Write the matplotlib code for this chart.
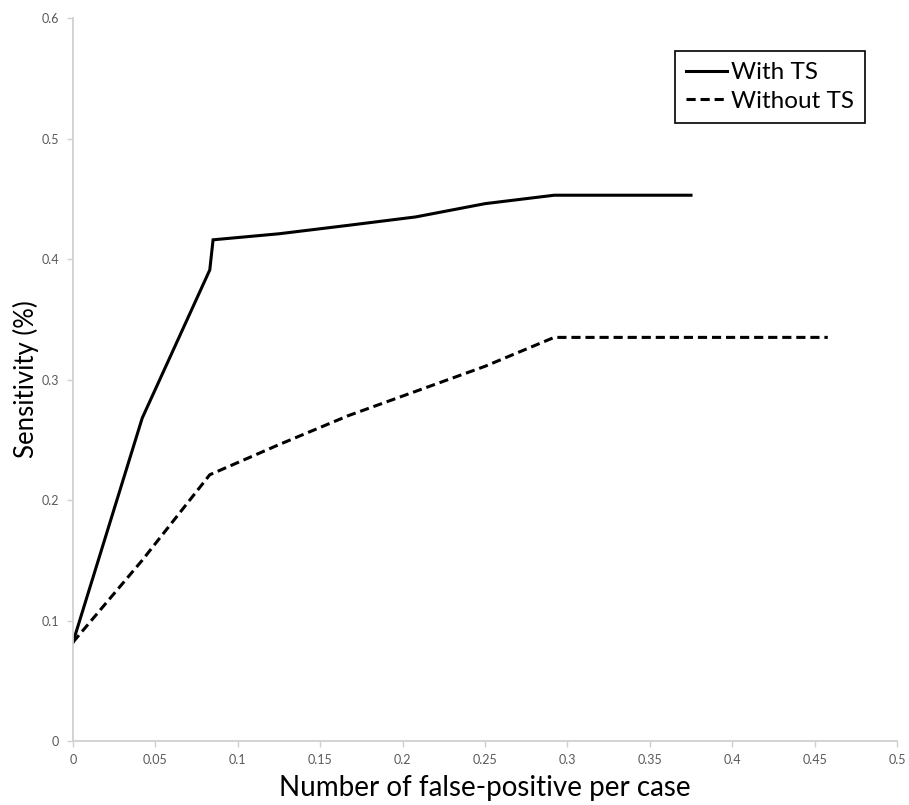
import matplotlib
matplotlib.use("Agg")
import matplotlib.pyplot as plt

# false-positives per case vs sensitivity
fp_with = [0.0, 0.042, 0.083, 0.085, 0.125, 0.167, 0.208, 0.25, 0.292, 0.375]
sens_with = [0.082, 0.268, 0.391, 0.416, 0.421, 0.428, 0.435, 0.446, 0.453, 0.453]

fp_without = [0.0, 0.042, 0.083, 0.125, 0.167, 0.25, 0.292, 0.458]
sens_without = [0.082, 0.15, 0.221, 0.246, 0.27, 0.311, 0.335, 0.335]

x_ticks = [0, 0.05, 0.1, 0.15, 0.2, 0.25, 0.3, 0.35, 0.4, 0.45, 0.5]
y_ticks = [0, 0.1, 0.2, 0.3, 0.4, 0.5, 0.6]

plt.rcParams["font.family"] = ["Lato", "DejaVu Sans"]

fig = plt.figure(figsize=(9.09, 8.05), dpi=100)
ax = fig.add_axes([0.0803, 0.0795, 0.9065, 0.898])

ax.plot(fp_with, sens_with, color="black", linewidth=2.2, label="With TS",
        solid_joinstyle="miter")
ax.plot(fp_without, sens_without, color="black", linewidth=2.2,
        linestyle=(0, (3.0, 1.6)), label="Without TS")

ax.set_xlim(0, 0.5)
ax.set_ylim(0, 0.6)
ax.set_xticks(x_ticks)
ax.set_xticklabels([f"{v:g}" for v in x_ticks])
ax.set_yticks(y_ticks)
ax.set_yticklabels([f"{v:g}" for v in y_ticks])

for side in ["top", "right"]:
    ax.spines[side].set_visible(False)
for side in ["left", "bottom"]:
    ax.spines[side].set_color("#d0d0d0")
    ax.spines[side].set_linewidth(1.3)
ax.tick_params(axis="both", colors="#d0d0d0", labelcolor="#595959",
               labelsize=9, length=4, width=1, direction="out")
ax.tick_params(axis="x", pad=5)
ax.tick_params(axis="y", pad=6)

ax.set_xlabel("Number of false-positive per case", fontsize=20)
ax.xaxis.label.set_verticalalignment("baseline")
ax.xaxis.set_label_coords(0.5, -0.0755)
ax.set_ylabel("Sensitivity (%)", fontsize=18.5)
ax.yaxis.label.set_verticalalignment("center")
ax.yaxis.set_label_coords(-0.057, 0.5)

leg = ax.legend(loc="upper right", bbox_to_anchor=(0.961, 0.954),
                borderaxespad=0, fontsize=17.5, handlelength=1.7,
                handletextpad=0.15, fancybox=False, framealpha=1,
                borderpad=0.45, labelspacing=0.3)
leg.get_frame().set_edgecolor("black")
leg.get_frame().set_linewidth(1.2)

plt.savefig("out.png", dpi=100)
plt.close()
